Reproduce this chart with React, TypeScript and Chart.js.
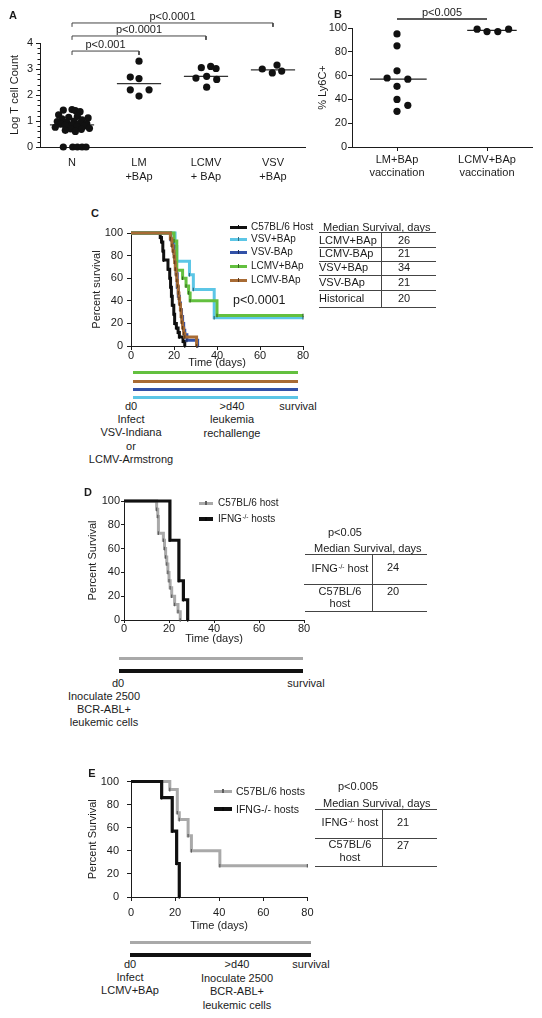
import React, { useEffect, useRef } from 'react';
import { Chart, registerables } from 'chart.js';

Chart.register(...registerables);

const FONT = '"Liberation Sans", Arial, Helvetica, sans-serif';
const INK = '#1b1b1b';

// ---------------- Panel A data ----------------
const aCategories = [['N'], ['LM', '+BAp'], ['LCMV', '+ BAp'], ['VSV', '+BAp']];
const aYTicks = [0, 1, 2, 3, 4];
const aMinorTicks = [0.2, 0.4, 0.6, 0.8, 1.2, 1.4, 1.6, 1.8, 2.2, 2.4, 2.6, 2.8, 3.2, 3.4, 3.6, 3.8];
const aNValues = [1.42, 1.44, 1.4, 1.36, 1.24, 1.18, 1.14, 1.12, 1.08, 1.04, 1.0, 0.98, 0.95, 0.92, 0.9, 0.88, 0.85, 0.83, 0.8, 0.78, 0.76, 0.72, 0.7, 0.68, 0.64, 0.6, 0, 0, 0, 0, 0];
const aNJitter = [-0.13, 0.0, 0.05, 0.12, -0.2, 0.08, -0.05, 0.24, -0.15, 0.15, 0.03, -0.22, -0.08, 0.12, 0.22, -0.17, 0.0, -0.1, 0.18, 0.07, -0.25, 0.26, -0.02, 0.14, -0.1, 0.05, -0.13, 0.01, 0.08, 0.15, 0.21];
const aLMValues = [3.3, 2.69, 2.63, 2.2, 2.2, 1.96];
const aLMJitter = [0, -0.13, 0, -0.13, 0.15, 0];
const aLCMVValues = [3.05, 3.1, 3.02, 2.65, 2.72, 2.6, 2.3];
const aLCMVJitter = [-0.07, 0.07, 0.15, -0.15, 0.01, 0.16, 0.01];
const aVSVValues = [3.0, 2.85, 3.15, 2.92];
const aVSVJitter = [-0.16, -0.01, 0.06, 0.13];
const aMedians = [0.85, 2.44, 2.72, 2.97];
const aBrackets = [
  { from: 0, to: 3, y: 4.77, label: 'p<0.0001' },
  { from: 0, to: 2, y: 4.27, label: 'p<0.0001' },
  { from: 0, to: 1, y: 3.69, label: 'p<0.001' },
];

// ---------------- Panel B data ----------------
const bCategories = [['LM+BAp', 'vaccination'], ['LCMV+BAp', 'vaccination']];
const bLMValues = [95, 85, 64, 58, 57, 51, 40, 35, 30];
const bLMJitter = [0, 0, 0, -0.11, 0.12, 0, 0, 0.12, 0];
const bLCMVValues = [99, 97, 97, 99];
const bLCMVJitter = [-0.11, 0.0, 0.12, 0.24];
const bMedians = [57, 98];
const bBrackets = [{ from: 0, to: 1, y: 107.6, label: 'p<0.005' }];

// ---------------- Panel C data ----------------
const cHostDays = [0, 13.6, 14.2, 14.8, 15.2, 17.2, 18, 18.4, 18.8, 19.2, 19.9, 20.3, 21.1, 21.9, 22.5, 24.2, 25];
const cHostSurv = [100, 96, 92, 84, 76, 68, 60, 52, 44, 36, 28, 20, 16, 12, 8, 4, 0];
const cVsvPlusDays = [0, 20.5, 21.3, 27.2, 29, 38.7, 80];
const cVsvPlusSurv = [100, 88, 75, 63, 50, 25, 25];
const cVsvMinusDays = [0, 18.5, 19.5, 20, 20.5, 21, 21.5, 22, 22.5, 23, 23.5, 24, 24.5, 25, 26, 31];
const cVsvMinusSurv = [100, 94, 88, 82, 76, 64, 52, 44, 38, 32, 26, 20, 14, 10, 5, 0];
const cLcmvPlusDays = [0, 20, 21.3, 24, 25.6, 26.8, 27.5, 40, 80];
const cLcmvPlusSurv = [100, 93, 67, 60, 53, 47, 40, 27, 27];
const cLcmvMinusDays = [0, 18.3, 19, 19.5, 20, 20.3, 20.6, 21, 21.3, 21.6, 22, 22.3, 22.6, 23, 23.3, 23.6, 24, 24.5, 25, 30.5];
const cLcmvMinusSurv = [100, 95, 89, 84, 79, 74, 68, 63, 58, 53, 47, 42, 37, 32, 26, 21, 16, 11, 8, 0];
const cTableRows = ['LCMV+BAp', 'LCMV-BAp', 'VSV+BAp', 'VSV-BAp', 'Historical'];
const cTableMedians = [26, 21, 34, 21, 20];

// ---------------- Panel D data ----------------
const dWildDays = [0, 14.5, 15, 15.3, 17.5, 18, 18.5, 19, 19.5, 20, 20.5, 21.2, 22.5, 24, 25];
const dWildSurv = [100, 93, 87, 73, 67, 60, 53, 47, 40, 33, 27, 20, 13, 7, 0];
const dKoDays = [0, 20.4, 24.4, 26.4, 28.3];
const dKoSurv = [100, 67, 33, 17, 0];
const dMedians = [24, 20];

// ---------------- Panel E data ----------------
const eWildDays = [0, 17.6, 21, 21.9, 25.9, 27.4, 40.3, 80];
const eWildSurv = [100, 93, 73, 67, 53, 40, 27, 27];
const eKoDays = [0, 13.9, 18.7, 20.7, 21.9];
const eKoSurv = [100, 86, 57, 29, 0];
const eMedians = [21, 27];

const kmTicks = [0, 20, 40, 60, 80];

// ---------------- colours ----------------
const COL = {
  black: '#111111',
  cyan: '#5cc6e6',
  blue: '#3251a8',
  green: '#63c03f',
  brown: '#a86b34',
  gray: '#a9a9a9',
};

const pts = (xs: number[], ys: number[]) => xs.map((x, i) => ({ x, y: ys[i] }));
const jittered = (center: number, jit: number[], vals: number[]) =>
  vals.map((v, i) => ({ x: center + jit[i], y: v }));

const tickFont = { family: FONT, size: 11, lineHeight: 1 };
const titleFont = { family: FONT, size: 11 };

function bracketLabelPlugin(brackets: { from: number; to: number; y: number; label: string }[]) {
  return {
    id: 'bracketLabels',
    afterDatasetsDraw(chart: any) {
      const { ctx, scales } = chart;
      ctx.save();
      ctx.font = `11px ${FONT}`;
      ctx.fillStyle = INK;
      ctx.textAlign = 'center';
      ctx.textBaseline = 'alphabetic';
      brackets.forEach((b) => {
        ctx.fillText(b.label, scales.x.getPixelForValue((b.from + b.to) / 2), scales.y.getPixelForValue(b.y) - 3);
      });
      ctx.restore();
    },
  };
}

const minorTicksPlugin = {
  id: 'minorTicks',
  afterDraw(chart: any) {
    const { ctx, scales, chartArea } = chart;
    ctx.save();
    ctx.strokeStyle = INK;
    ctx.lineWidth = 1;
    aMinorTicks.forEach((v) => {
      const py = Math.round(scales.y.getPixelForValue(v)) + 0.5;
      ctx.beginPath();
      ctx.moveTo(chartArea.left - 2.5, py);
      ctx.lineTo(chartArea.left, py);
      ctx.stroke();
    });
    ctx.restore();
  },
};

const dotSet = (data: any[]) => ({
  data,
  showLine: false,
  pointRadius: 3.6,
  pointBackgroundColor: '#111',
  pointBorderWidth: 0,
  clip: false,
});

const segSet = (data: any[], color = '#333', width = 1.2) => ({
  data,
  showLine: true,
  borderColor: color,
  borderWidth: width,
  pointRadius: 0,
  clip: false,
});

function configA(): any {
  return {
    type: 'scatter',
    data: {
      datasets: [
        dotSet(jittered(0, aNJitter, aNValues)),
        dotSet(jittered(1, aLMJitter, aLMValues)),
        dotSet(jittered(2, aLCMVJitter, aLCMVValues)),
        dotSet(jittered(3, aVSVJitter, aVSVValues)),
        ...aMedians.map((m, i) => segSet([{ x: i - 0.33, y: m }, { x: i + 0.33, y: m }], '#333', 1.2)),
        ...aBrackets.map((b) =>
          segSet(
            [
              { x: b.from, y: b.y - 0.15 },
              { x: b.from, y: b.y },
              { x: b.to, y: b.y },
              { x: b.to, y: b.y - 0.15 },
            ],
            '#444',
            1
          )
        ),
      ],
    },
    options: {
      responsive: false,
      animation: false,
      events: [],
      layout: { padding: { top: 43, right: 5, left: 0, bottom: 0 }, autoPadding: false },
      plugins: { legend: { display: false }, tooltip: { enabled: false } },
      scales: {
        x: {
          type: 'linear',
          min: -0.478,
          max: 3.478,
          afterFit: (s: any) => { s.height = 48; },
          afterBuildTicks: (s: any) => { s.ticks = [0, 1, 2, 3].map((v) => ({ value: v })); },
          ticks: {
            callback: (v: any) => aCategories[v],
            padding: 9,
            color: INK,
            font: { family: FONT, size: 11, lineHeight: 1.27 },
            maxRotation: 0,
            autoSkip: false,
          },
          grid: { display: true, drawOnChartArea: false, drawTicks: false },
          border: { display: true, color: INK, width: 1 },
        },
        y: {
          min: 0,
          max: 4,
          afterFit: (s: any) => { s.width = 40; },
          afterBuildTicks: (s: any) => { s.ticks = aYTicks.map((v) => ({ value: v })); },
          ticks: { padding: 3, color: INK, font: tickFont },
          grid: { display: true, drawOnChartArea: false, drawTicks: true, tickLength: 4, color: INK },
          border: { display: true, color: INK, width: 1 },
          title: { display: true, text: 'Log T cell Count', color: INK, font: titleFont, padding: { top: 8.4, bottom: 0 } },
        },
      },
    },
    plugins: [bracketLabelPlugin(aBrackets), minorTicksPlugin],
  };
}

function configB(): any {
  return {
    type: 'scatter',
    data: {
      datasets: [
        dotSet(jittered(0, bLMJitter, bLMValues)),
        dotSet(jittered(1, bLCMVJitter, bLCMVValues)),
        segSet([{ x: -0.3, y: bMedians[0] }, { x: 0.33, y: bMedians[0] }], '#222', 1.3),
        segSet([{ x: 0.78, y: bMedians[1] }, { x: 1.33, y: bMedians[1] }], '#222', 1.3),
        ...bBrackets.map((b) => segSet([{ x: b.from, y: b.y }, { x: b.to, y: b.y }], '#222', 1.5)),
      ],
    },
    options: {
      responsive: false,
      animation: false,
      events: [],
      layout: { padding: { top: 28, right: 10, left: 0, bottom: 0 }, autoPadding: false },
      plugins: { legend: { display: false }, tooltip: { enabled: false } },
      scales: {
        x: {
          type: 'linear',
          min: -0.5,
          max: 1.5,
          afterFit: (s: any) => { s.height = 48; },
          afterBuildTicks: (s: any) => { s.ticks = [0, 1].map((v) => ({ value: v })); },
          ticks: {
            callback: (v: any) => bCategories[v],
            padding: 2.5,
            color: INK,
            font: { family: FONT, size: 11, lineHeight: 1.15 },
            maxRotation: 0,
            autoSkip: false,
          },
          grid: { display: true, drawOnChartArea: false, drawTicks: true, tickLength: 4, color: INK },
          border: { display: true, color: INK, width: 1 },
        },
        y: {
          min: 0,
          max: 100,
          afterFit: (s: any) => { s.width = 62; },
          ticks: { stepSize: 20, padding: 1, color: INK, font: tickFont },
          grid: { display: true, drawOnChartArea: false, drawTicks: true, tickLength: 4, color: INK },
          border: { display: true, color: INK, width: 1 },
          title: { display: true, text: '% Ly6C+', color: INK, font: titleFont, padding: { top: 26.4, bottom: 0 } },
        },
      },
    },
    plugins: [bracketLabelPlugin(bBrackets)],
  };
}

function darker(hex: string) {
  const n = parseInt(hex.slice(1), 16);
  const r = Math.round(((n >> 16) & 255) * 0.55);
  const g = Math.round(((n >> 8) & 255) * 0.55);
  const b = Math.round((n & 255) * 0.55);
  return `rgb(${r},${g},${b})`;
}

function kmSet(days: number[], surv: number[], color: string, width: number, order: number) {
  return {
    data: pts(days, surv),
    borderColor: color,
    borderWidth: width,
    stepped: true,
    tension: 0,
    fill: false,
    clip: false,
    order,
    pointStyle: 'line',
    pointRotation: 90,
    pointRadius: (c: any) => (c.dataIndex === 0 ? 0 : 1.8),
    pointBorderColor: darker(color),
    pointBorderWidth: 1.2,
    pointBackgroundColor: darker(color),
  };
}

function kmConfig(datasets: any[], o: any): any {
  return {
    type: 'line',
    data: { datasets },
    options: {
      responsive: false,
      animation: false,
      events: [],
      layout: { padding: { top: o.padTop, right: o.padRight, left: 0, bottom: 0 }, autoPadding: false },
      plugins: { legend: { display: false }, tooltip: { enabled: false } },
      scales: {
        x: {
          type: 'linear',
          min: 0,
          max: 80,
          afterFit: (s: any) => { s.height = o.xHeight; },
          afterBuildTicks: (s: any) => { s.ticks = kmTicks.map((v) => ({ value: v })); },
          ticks: { padding: o.xTickPad, color: INK, font: tickFont, maxRotation: 0 },
          grid: { display: true, drawOnChartArea: false, drawTicks: true, tickLength: o.tickLen, color: INK },
          border: { display: true, color: INK, width: 1 },
          title: { display: true, text: 'Time (days)', color: INK, font: titleFont, padding: { top: 0, bottom: 0 } },
        },
        y: {
          min: 0,
          max: 100,
          afterFit: (s: any) => { s.width = o.yWidth; },
          ticks: { stepSize: 20, padding: o.yTickPad, color: INK, font: tickFont },
          grid: { display: true, drawOnChartArea: false, drawTicks: true, tickLength: o.tickLen, color: INK },
          border: { display: true, color: INK, width: 1 },
          title: { display: true, text: o.yTitle, color: INK, font: titleFont, padding: { top: o.yTitlePad, bottom: 0 } },
        },
      },
    },
  };
}

function configC(): any {
  return kmConfig(
    [
      kmSet(cHostDays, cHostSurv, COL.black, 3, 4),
      kmSet(cVsvPlusDays, cVsvPlusSurv, COL.cyan, 3, 3),
      kmSet(cVsvMinusDays, cVsvMinusSurv, COL.blue, 3, 2),
      kmSet(cLcmvPlusDays, cLcmvPlusSurv, COL.green, 3, 1),
      kmSet(cLcmvMinusDays, cLcmvMinusSurv, COL.brown, 3, 0),
    ],
    { padTop: 11, padRight: 12, xHeight: 24, yWidth: 46, tickLen: 4, xTickPad: 0, yTickPad: 4, yTitle: 'Percent survival', yTitlePad: 5.4 }
  );
}

function configD(): any {
  return kmConfig(
    [kmSet(dWildDays, dWildSurv, COL.gray, 3, 1), kmSet(dKoDays, dKoSurv, COL.black, 3.2, 0)],
    { padTop: 11, padRight: 12, xHeight: 26, yWidth: 46, tickLen: 3, xTickPad: 0, yTickPad: 1, yTitle: 'Percent Survival', yTitlePad: 8.4 }
  );
}

function configE(): any {
  return kmConfig(
    [kmSet(eWildDays, eWildSurv, COL.gray, 3, 1), kmSet(eKoDays, eKoSurv, COL.black, 3.2, 0)],
    { padTop: 11, padRight: 12, xHeight: 36, yWidth: 46, tickLen: 4, xTickPad: 6.5, yTickPad: 8, yTitle: 'Percent Survival', yTitlePad: 1.4 }
  );
}

function ChartBox({ left, top, width, height, make }: any) {
  const ref = useRef<HTMLCanvasElement>(null);
  useEffect(() => {
    const chart = new Chart(ref.current as HTMLCanvasElement, make());
    return () => chart.destroy();
  }, []);
  return (
    <canvas
      ref={ref}
      width={width}
      height={height}
      style={{ position: 'absolute', left, top, width, height, display: 'block' }}
    />
  );
}

function T({ x, y, children, align = 'center', size = 11, bold = false }: any) {
  const tr = align === 'center' ? 'translate(-50%,-50%)' : align === 'left' ? 'translate(0,-50%)' : 'translate(-100%,-50%)';
  return (
    <div
      style={{
        position: 'absolute',
        left: x,
        top: y,
        transform: tr,
        whiteSpace: 'nowrap',
        fontSize: size,
        lineHeight: 1,
        fontWeight: bold ? 700 : 400,
        fontFamily: FONT,
        color: INK,
      }}
    >
      {children}
    </div>
  );
}

function HLine({ x1, x2, y, w = 1, color = '#444' }: any) {
  return <div style={{ position: 'absolute', left: x1, top: y - w / 2, width: x2 - x1, height: w, background: color }} />;
}
function VLine({ x, y1, y2, w = 1, color = '#444' }: any) {
  return <div style={{ position: 'absolute', left: x - w / 2, top: y1, width: w, height: y2 - y1, background: color }} />;
}

function Sup({ children }: any) {
  return <span style={{ fontSize: 6.5, position: 'relative', top: -3.5, marginLeft: 0.5 }}>{children}</span>;
}

function Swatch({ x1, x2, y, color, w = 3 }: any) {
  return (
    <>
      <HLine x1={x1} x2={x2} y={y} w={w} color={color} />
      <VLine x={(x1 + x2) / 2} y1={y - 2} y2={y + 2} w={1.2} color={darker(color)} />
    </>
  );
}

export default function App() {
  const cLegend = [
    { label: 'C57BL/6 Host', color: COL.black },
    { label: 'VSV+BAp', color: COL.cyan },
    { label: 'VSV-BAp', color: COL.blue },
    { label: 'LCMV+BAp', color: COL.green },
    { label: 'LCMV-BAp', color: COL.brown },
  ];
  const cLegendY = [227, 239, 252, 266, 280];
  const cRowY = [240, 253, 267, 282, 298];
  const cLineY = [247, 261, 275, 290, 307];

  return (
    <div
      style={{
        position: 'absolute',
        left: 0,
        top: 0,
        width: 542,
        height: 1018,
        overflow: 'hidden',
        background: '#fff',
        fontFamily: FONT,
        color: INK,
      }}
    >
      {/* Panel A */}
      <ChartBox left={0} top={0} width={310} height={195} make={configA} />
      <T x={13} y={15} bold>A</T>

      {/* Panel B */}
      <ChartBox left={290} top={0} width={252} height={195} make={configB} />
      <T x={338} y={14} bold>B</T>

      {/* Panel C */}
      <ChartBox left={85} top={222} width={230} height={148} make={configC} />
      <T x={95} y={213} bold>C</T>
      {cLegend.map((l, i) => (
        <React.Fragment key={l.label}>
          <Swatch x1={230} x2={247} y={cLegendY[i]} color={l.color} />
          <T x={251} y={cLegendY[i]} align="left" size={10}>{l.label}</T>
        </React.Fragment>
      ))}
      <T x={233} y={300} align="left" size={12.5}>p&lt;0.0001</T>
      <T x={323} y={227} align="left">Median Survival, days</T>
      <HLine x1={319} x2={436} y={232} />
      <VLine x={381} y1={232} y2={307} />
      {cTableRows.map((r, i) => (
        <React.Fragment key={r}>
          <T x={319} y={cRowY[i]} align="left">{r}</T>
          <T x={404} y={cRowY[i]}>{cTableMedians[i]}</T>
          <HLine x1={319} x2={436} y={cLineY[i]} />
        </React.Fragment>
      ))}
      <HLine x1={133} x2={298} y={372} w={3} color={COL.green} />
      <HLine x1={133} x2={298} y={381} w={3} color={COL.brown} />
      <HLine x1={133} x2={298} y={389} w={3} color={COL.blue} />
      <HLine x1={133} x2={298} y={397} w={3} color={COL.cyan} />
      <T x={131} y={406}>d0</T>
      <T x={131} y={419}>Infect</T>
      <T x={131} y={432}>VSV-Indiana</T>
      <T x={131} y={446}>or</T>
      <T x={131} y={459}>LCMV-Armstrong</T>
      <T x={232} y={406}>&gt;d40</T>
      <T x={232} y={419}>leukemia</T>
      <T x={232} y={433}>rechallenge</T>
      <T x={298} y={406}>survival</T>

      {/* Panel D */}
      <ChartBox left={78} top={490} width={238} height={156} make={configD} />
      <T x={88} y={492} bold>D</T>
      <Swatch x1={199} x2={213} y={503} color={COL.gray} />
      <T x={218} y={503} align="left" size={10}>C57BL/6 host</T>
      <Swatch x1={199} x2={213} y={519} color={COL.black} w={3.5} />
      <T x={218} y={519} align="left" size={10}>IFNG<Sup>-/-</Sup> hosts</T>
      <T x={328} y={532} align="left">p&lt;0.05</T>
      <T x={314} y={548} align="left">Median Survival, days</T>
      <HLine x1={305} x2={427} y={554} />
      <VLine x={372} y1={554} y2={611} />
      <T x={340} y={568}>IFNG<Sup>-/-</Sup> host</T>
      <T x={393} y={567}>{dMedians[0]}</T>
      <HLine x1={304} x2={427} y={584} />
      <T x={340} y={591}>C57BL/6</T>
      <T x={340} y={603}>host</T>
      <T x={393} y={591}>{dMedians[1]}</T>
      <HLine x1={305} x2={427} y={611} />
      <HLine x1={119} x2={303} y={658} w={3} color={COL.gray} />
      <HLine x1={119} x2={303} y={671} w={3.5} color={COL.black} />
      <T x={118} y={683}>d0</T>
      <T x={104} y={696}>Inoculate 2500</T>
      <T x={104} y={709}>BCR-ABL+</T>
      <T x={104} y={722}>leukemic cells</T>
      <T x={306} y={683}>survival</T>

      {/* Panel E */}
      <ChartBox left={85} top={768} width={235} height={165} make={configE} />
      <T x={92} y={773} bold>E</T>
      <Swatch x1={214} x2={232} y={791} color={COL.gray} />
      <T x={236} y={791} align="left" size={10.5}>C57BL/6 hosts</T>
      <Swatch x1={214} x2={232} y={809} color={COL.black} w={3.5} />
      <T x={236} y={809} align="left" size={10.5}>IFNG-/- hosts</T>
      <T x={338} y={786} align="left">p&lt;0.005</T>
      <T x={323} y={803} align="left">Median Survival, days</T>
      <HLine x1={315} x2={437} y={809} />
      <VLine x={382} y1={809} y2={866} />
      <T x={350} y={822}>IFNG<Sup>-/-</Sup> host</T>
      <T x={403} y={822}>{eMedians[0]}</T>
      <HLine x1={315} x2={437} y={838} />
      <T x={350} y={844}>C57BL/6</T>
      <T x={350} y={857}>host</T>
      <T x={403} y={845}>{eMedians[1]}</T>
      <HLine x1={315} x2={437} y={866} />
      <HLine x1={130} x2={311} y={942} w={3} color={COL.gray} />
      <HLine x1={130} x2={311} y={955} w={3.5} color={COL.black} />
      <T x={130} y={964}>d0</T>
      <T x={130} y={977}>Infect</T>
      <T x={130} y={990}>LCMV+BAp</T>
      <T x={237} y={964}>&gt;d40</T>
      <T x={237} y={978}>Inoculate 2500</T>
      <T x={237} y={991}>BCR-ABL+</T>
      <T x={237} y={1005}>leukemic cells</T>
      <T x={311} y={964}>survival</T>
    </div>
  );
}
